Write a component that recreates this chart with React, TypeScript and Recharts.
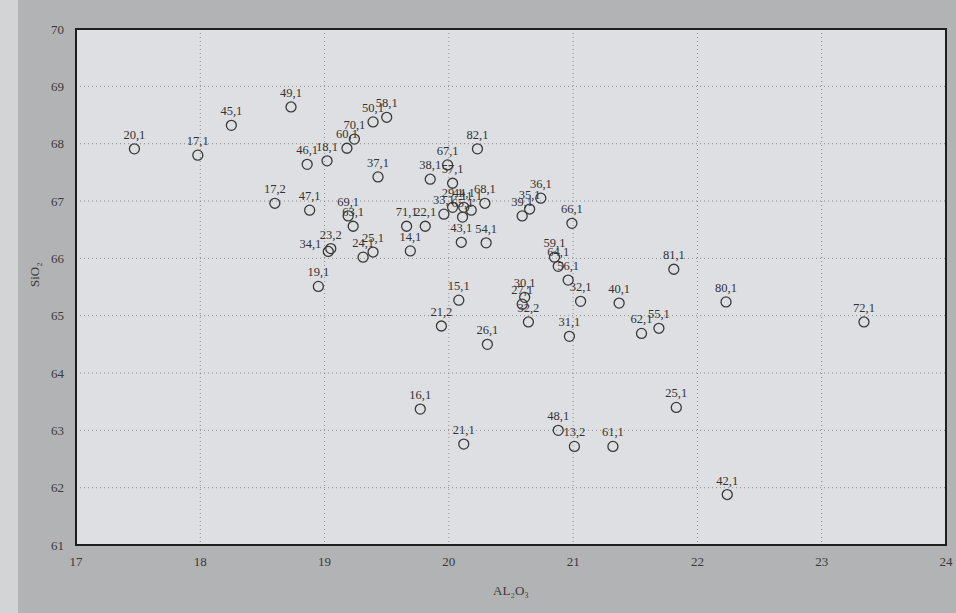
import React from 'react';
import { ScatterChart, Scatter, XAxis, YAxis, CartesianGrid, ReferenceArea } from 'recharts';

// sample labels, Al2O3 and SiO2 values
const labels = [
  '20,1', '17,1', '45,1', '49,1', '46,1', '18,1', '60,1', '70,1', '50,1', '58,1',
  '37,1', '82,1', '38,1', '67,1', '57,1', '68,1', '33,1', '29,1', '44,1', '11,1',
  '65,1', '43,1', '54,1', '36,1', '35,1', '39,1', '66,1', '59,1', '64,1', '56,1',
  '81,1', '80,1', '32,1', '40,1', '62,1', '55,1', '31,1', '30,1', '27,1', '32,2',
  '26,1', '15,1', '21,2', '72,1', '17,2', '47,1', '69,1', '63,1', '23,2', '34,1',
  '19,1', '24,1', '25,1', '71,1', '22,1', '14,1', '16,1', '21,1', '48,1', '13,2',
  '61,1', '25,1', '42,1',
];

const al2o3 = [
  17.47, 17.98, 18.25, 18.73, 18.86, 19.02, 19.18, 19.24, 19.39, 19.5,
  19.43, 20.23, 19.85, 19.99, 20.03, 20.29, 19.96, 20.03, 20.12, 20.18,
  20.11, 20.1, 20.3, 20.74, 20.65, 20.59, 20.99, 20.85, 20.88, 20.96,
  21.81, 22.23, 21.06, 21.37, 21.55, 21.69, 20.97, 20.61, 20.59, 20.64,
  20.31, 20.08, 19.94, 23.34, 18.6, 18.88, 19.19, 19.23, 19.05, 19.03,
  18.95, 19.31, 19.39, 19.66, 19.81, 19.69, 19.77, 20.12, 20.88, 21.01,
  21.32, 21.83, 22.24,
];

const sio2 = [
  67.91, 67.8, 68.32, 68.64, 67.64, 67.7, 67.92, 68.08, 68.38, 68.46,
  67.42, 67.91, 67.38, 67.63, 67.31, 66.96, 66.77, 66.89, 66.89, 66.84,
  66.72, 66.28, 66.27, 67.05, 66.86, 66.74, 66.61, 66.02, 65.86, 65.62,
  65.81, 65.24, 65.25, 65.22, 64.69, 64.78, 64.64, 65.32, 65.2, 64.89,
  64.5, 65.27, 64.82, 64.89, 66.96, 66.84, 66.74, 66.56, 66.17, 66.12,
  65.51, 66.02, 66.11, 66.56, 66.56, 66.13, 63.37, 62.76, 63.0, 62.72,
  62.72, 63.4, 61.88,
];

const xTicks = [17, 18, 19, 20, 21, 22, 23, 24];
const yTicks = [61, 62, 63, 64, 65, 66, 67, 68, 69, 70];

// labels that the scan prints to the left of their circle
const leftLabels = ['34,1'];

const points = labels.map((name, i) => ({ name, x: al2o3[i], y: sio2[i] }));

const font = '"Liberation Serif", "DejaVu Serif", serif';

// open circle with its sample label
const LabeledDot = (props: any) => {
  const { cx, cy, payload } = props;
  const left = leftLabels.includes(payload.name);
  return (
    <g>
      <circle cx={cx} cy={cy} r={5} fill="none" stroke="#3a3a3a" strokeWidth={1.3} />
      <text
        x={left ? cx - 7 : cx}
        y={left ? cy - 3 : cy - 10}
        textAnchor={left ? 'end' : 'middle'}
        fontSize={12.5}
        fontFamily={font}
        fill="#333333"
      >
        {payload.name}
      </text>
    </g>
  );
};

export default function App() {
  return (
    <div style={{ position: 'fixed', left: 0, top: 0, width: 956, height: 613, background: '#b2b3b5' }}>
      <div style={{ position: 'absolute', left: 0, top: 0, width: 18, height: 613, background: '#d3d4d6' }} />
      <ScatterChart width={956} height={613} margin={{ top: 29, right: 10, bottom: 0, left: 0 }}>
        <CartesianGrid fill="#dedfe2" stroke="#8a8a8a" strokeDasharray="1 3" />
        <XAxis
          type="number"
          dataKey="x"
          domain={[17, 24]}
          ticks={xTicks}
          height={68}
          tickLine={false}
          axisLine={false}
          tick={{ fill: '#3a3a3a', fontSize: 13, fontFamily: font }}
          tickMargin={6}
          label={{ value: 'AL₂O₃', position: 'insideBottom', offset: 18, fill: '#3a3a3a', fontSize: 13, fontFamily: font }}
        />
        <YAxis
          type="number"
          dataKey="y"
          domain={[61, 70]}
          ticks={yTicks}
          width={76}
          tickLine={false}
          axisLine={false}
          tick={{ fill: '#3a3a3a', fontSize: 13, fontFamily: font }}
          tickMargin={6}
          label={{ value: 'SiO₂', angle: -90, position: 'insideLeft', offset: 34, fill: '#3a3a3a', fontSize: 13, fontFamily: font }}
        />
        <ReferenceArea x1={17} x2={24} y1={61} y2={70} fill="none" stroke="#1e1e1e" strokeWidth={2} />
        <Scatter data={points} shape={LabeledDot} isAnimationActive={false} />
      </ScatterChart>
    </div>
  );
}
